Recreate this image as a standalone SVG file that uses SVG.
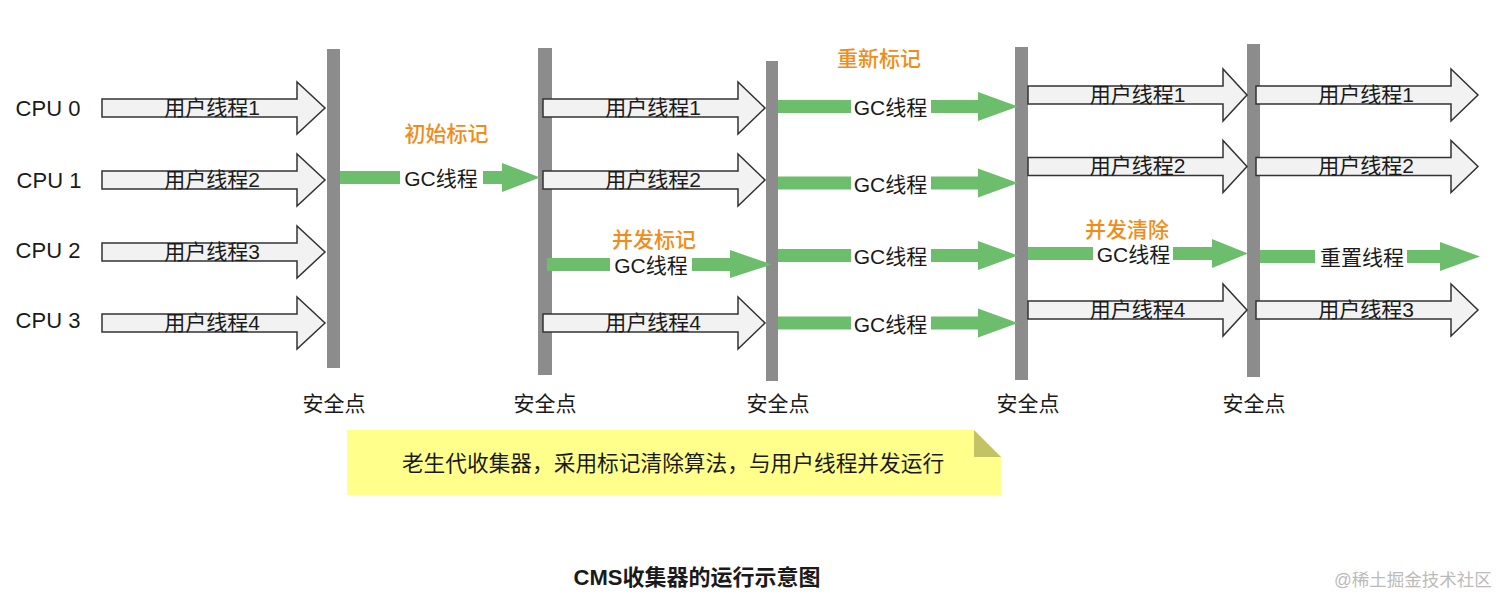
<svg xmlns="http://www.w3.org/2000/svg" width="1512" height="607" viewBox="0 0 1512 607">
<style>
text{font-family:"Liberation Sans","Noto Sans CJK SC",sans-serif;fill:#1a1a1a;font-size:21px}
.mid{text-anchor:middle}
.cpu{font-size:22px}
.ua{fill:#f2f2f2;stroke:#333;stroke-width:1.5;stroke-linejoin:miter}
.ga{fill:#6cbd6c}
.bar{fill:#8c8c8c}
.gap{fill:#fff}
.or{fill:#f28c18;font-weight:500}
.note{font-size:21.7px}
.title{font-weight:bold;font-size:22px}
.wm{fill:#bbbbbb;font-size:17.5px}
</style>
<rect width="1512" height="607" fill="#fff"/>
<g id="cpu-labels">
<text class="mid cpu" x="48" y="116">CPU 0</text>
<text class="mid cpu" x="49" y="187.5">CPU 1</text>
<text class="mid cpu" x="48" y="258">CPU 2</text>
<text class="mid cpu" x="48" y="328">CPU 3</text>
</g>
<g id="safepoints">
<rect class="bar" x="327" y="49" width="13" height="319"/>
<rect class="bar" x="538" y="48" width="14" height="327"/>
<rect class="bar" x="766" y="61" width="12" height="320"/>
<rect class="bar" x="1015" y="47" width="13" height="333"/>
<rect class="bar" x="1247" y="44" width="13" height="333"/>
<text class="mid" x="334" y="411">安全点</text>
<text class="mid" x="545" y="411">安全点</text>
<text class="mid" x="778" y="411">安全点</text>
<text class="mid" x="1028" y="411">安全点</text>
<text class="mid" x="1254" y="411">安全点</text>
</g>
<g id="connectors">
<g id="c1-u1"><path class="ua" d="M102,99H297V82L325,108L297,134V117H102Z"/><text class="mid" x="212" y="114.5">用户线程1</text></g>
<g id="c1-u2"><path class="ua" d="M102,171H297V154L325,180L297,206V189H102Z"/><text class="mid" x="212" y="186.5">用户线程2</text></g>
<g id="c1-u3"><path class="ua" d="M102,243H297V226L325,252L297,278V261H102Z"/><text class="mid" x="212" y="258.5">用户线程3</text></g>
<g id="c1-u4"><path class="ua" d="M102,314H297V297L325,323L297,349V332H102Z"/><text class="mid" x="212" y="329.5">用户线程4</text></g>
<g id="c1-gc"><path class="ga" d="M340,171H502V163L540,177.5L502,192V184H340Z"/><rect class="gap" x="400" y="166" width="83" height="24"/><text class="mid" x="441" y="186">GC线程</text><text class="mid or" x="446.5" y="141">初始标记</text></g>
<g id="c2-u1"><path class="ua" d="M543,99H738V82L765,108L738,134V117H543Z"/><text class="mid" x="653" y="114.5">用户线程1</text></g>
<g id="c2-u2"><path class="ua" d="M543,171H738V154L765,180L738,206V189H543Z"/><text class="mid" x="653" y="186.5">用户线程2</text></g>
<g id="c2-gc"><path class="ga" d="M547,258H730V250L772,264.5L730,278V271H547Z"/><rect class="gap" x="610" y="253" width="82" height="24"/><text class="mid" x="651" y="273">GC线程</text><text class="mid or" x="654" y="247">并发标记</text></g>
<g id="c2-u4"><path class="ua" d="M543,314H738V297L765,323L738,349V332H543Z"/><text class="mid" x="653" y="329.5">用户线程4</text></g>
<g id="c3-gc1"><path class="ga" d="M778,100H978V92L1018,106.5L978,121V113H778Z"/><rect class="gap" x="851" y="95" width="80" height="24"/><text class="mid" x="890.5" y="115">GC线程</text><text class="mid or" x="879" y="66">重新标记</text></g>
<g id="c3-gc2"><path class="ga" d="M778,176.5H978V168.5L1018,183L978,197.5V189.5H778Z"/><rect class="gap" x="851" y="171" width="80" height="24"/><text class="mid" x="890.5" y="191.5">GC线程</text></g>
<g id="c3-gc3"><path class="ga" d="M778,249H978V241L1018,255.5L978,270V262H778Z"/><rect class="gap" x="851" y="244" width="80" height="24"/><text class="mid" x="890.5" y="264">GC线程</text></g>
<g id="c3-gc4"><path class="ga" d="M778,316.5H978V308.5L1018,323L978,337.5V329.5H778Z"/><rect class="gap" x="851" y="311" width="80" height="24"/><text class="mid" x="890.5" y="331.5">GC线程</text></g>
<g id="c4-u1"><path class="ua" d="M1028,86H1223V69L1247,95L1223,121V104H1028Z"/><text class="mid" x="1137.5" y="101.5">用户线程1</text></g>
<g id="c4-u2"><path class="ua" d="M1028,157.5H1223V140.5L1247,166.5L1223,192.5V175.5H1028Z"/><text class="mid" x="1137.5" y="173">用户线程2</text></g>
<g id="c4-gc"><path class="ga" d="M1028,247H1212V239L1248,253.5L1212,268V260H1028Z"/><rect class="gap" x="1093" y="242" width="80" height="24"/><text class="mid" x="1133.5" y="262">GC线程</text><text class="mid or" x="1127" y="237">并发清除</text></g>
<g id="c4-u4"><path class="ua" d="M1028,301H1223V284L1247,310L1223,336V319H1028Z"/><text class="mid" x="1137.5" y="316.5">用户线程4</text></g>
<g id="c5-u1"><path class="ua" d="M1256,86H1451V69L1478,95L1451,121V104H1256Z"/><text class="mid" x="1366" y="101.5">用户线程1</text></g>
<g id="c5-u2"><path class="ua" d="M1256,157.5H1451V140.5L1478,166.5L1451,192.5V175.5H1256Z"/><text class="mid" x="1366" y="173">用户线程2</text></g>
<g id="c5-gc"><path class="ga" d="M1260,250H1440V242L1480,256.5L1440,271V263H1260Z"/><rect class="gap" x="1315" y="245" width="92" height="24"/><text class="mid" x="1362" y="265">重置线程</text></g>
<g id="c5-u3"><path class="ua" d="M1256,301H1451V284L1478,310L1451,336V319H1256Z"/><text class="mid" x="1366" y="316.5">用户线程3</text></g>
</g>
<g id="note">
<path d="M347,430H974L1001,457V495H347Z" fill="#ffff8c"/>
<path d="M974,430V457H1001Z" fill="#c3c366"/>
<text class="mid note" x="673" y="471">老生代收集器，采用标记清除算法，与用户线程并发运行</text>
</g>
<g id="title">
<text class="mid title" x="697" y="585">CMS收集器的运行示意图</text>
</g>
<g id="watermark">
<text class="mid wm" x="1413" y="586">@稀土掘金技术社区</text>
</g>
</svg>
